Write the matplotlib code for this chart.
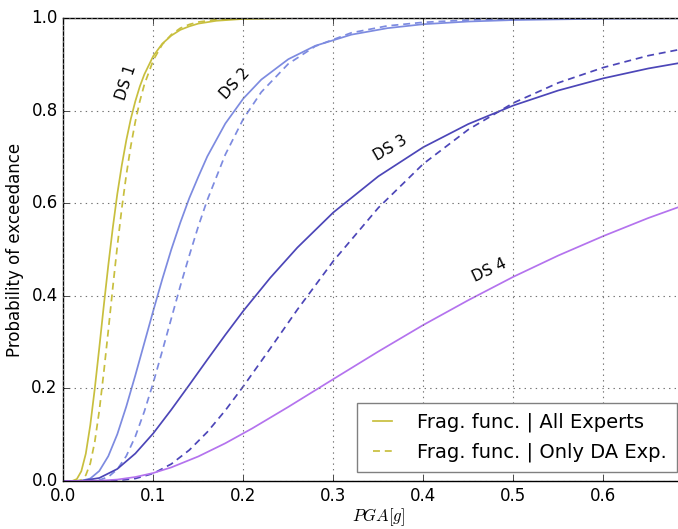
import numpy as np
import matplotlib
matplotlib.use('Agg')
import matplotlib.pyplot as plt

plt.style.use('classic')

# values (PGA in g, probability of exceedance)
ds1_pga = [0.0, 0.01, 0.015, 0.02, 0.025, 0.03, 0.035, 0.04, 0.045, 0.05, 0.055, 0.06, 0.065,
           0.07, 0.075, 0.08, 0.085, 0.09, 0.10, 0.11, 0.12, 0.13, 0.14, 0.15, 0.17, 0.20,
           0.25, 0.30, 0.70]
ds1_all = [0.0, 0.0002, 0.0041, 0.021, 0.059, 0.121, 0.200, 0.288, 0.379, 0.466, 0.547, 0.620,
           0.682, 0.736, 0.782, 0.820, 0.852, 0.878, 0.918, 0.9445, 0.962, 0.9744, 0.982,
           0.9879, 0.994, 0.998, 0.9996, 1.0, 1.0]
ds1_da = [0.0, 0.0, 0.0002, 0.0024, 0.0125, 0.038, 0.085, 0.152, 0.235, 0.325, 0.418, 0.507,
          0.589, 0.661, 0.7234, 0.776, 0.820, 0.856, 0.909, 0.943, 0.964, 0.978, 0.986,
          0.9913, 0.9965, 0.9991, 1.0, 1.0, 1.0]

ds2_pga = [0.0, 0.02, 0.03, 0.04, 0.05, 0.06, 0.07, 0.08, 0.09, 0.10, 0.11, 0.12, 0.13, 0.14,
           0.15, 0.16, 0.18, 0.20, 0.22, 0.25, 0.28, 0.32, 0.36, 0.40, 0.45, 0.50, 0.60, 0.70]
ds2_all = [0.0, 0.0005, 0.0054, 0.0217, 0.0537, 0.101, 0.161, 0.228, 0.298, 0.368, 0.436, 0.500,
           0.558, 0.611, 0.657, 0.701, 0.772, 0.826, 0.867, 0.911, 0.940, 0.964, 0.978, 0.9866,
           0.9924, 0.9956, 0.9985, 0.9994]
ds2_da = [0.0, 0.0, 0.0002, 0.002, 0.0088, 0.0252, 0.054, 0.096, 0.150, 0.2125, 0.281, 0.351,
          0.421, 0.487, 0.550, 0.607, 0.705, 0.782, 0.840, 0.901, 0.939, 0.968, 0.983, 0.9907,
          0.9956, 0.9979, 0.9995, 1.0]

ds3_pga = [0.0, 0.02, 0.04, 0.06, 0.08, 0.10, 0.12, 0.14, 0.16, 0.18, 0.20, 0.23, 0.26, 0.30,
           0.35, 0.40, 0.45, 0.50, 0.55, 0.60, 0.65, 0.70]
ds3_all = [0.0, 0.0003, 0.0065, 0.026, 0.0593, 0.103, 0.154, 0.2076, 0.262, 0.3156, 0.3673, 0.439,
           0.504, 0.580, 0.658, 0.721, 0.771, 0.811, 0.8435, 0.8697, 0.891, 0.908]
ds3_da = [0.0, 0.0, 0.0001, 0.001, 0.0053, 0.0163, 0.0367, 0.0668, 0.1058, 0.1524, 0.2044, 0.2864,
          0.370, 0.475, 0.590, 0.685, 0.759, 0.8165, 0.860, 0.893, 0.9187, 0.9377]

ds4_pga = [0.0, 0.04, 0.06, 0.08, 0.10, 0.12, 0.15, 0.18, 0.21, 0.25, 0.30, 0.35, 0.40, 0.45,
           0.50, 0.55, 0.60, 0.65, 0.70]
ds4_all = [0.0, 0.0006, 0.0031, 0.0086, 0.0173, 0.0294, 0.053, 0.0815, 0.1137, 0.160, 0.220,
           0.2796, 0.337, 0.3905, 0.441, 0.487, 0.529, 0.568, 0.603]

c1, c2, c3, c4 = '#c8bf3e', '#7d8be0', '#4c46b8', '#b473ee'

fig = plt.figure(figsize=(6.78, 5.29), dpi=100, facecolor='white')
ax = fig.add_axes([63.3 / 678, 48 / 529, 630 / 678, 463 / 529])

lw = 1.25
dash = (5, 3.5)
ax.plot(ds1_pga, ds1_all, '-', color=c1, lw=lw, label='Frag. func. | All Experts')
ax.plot(ds1_pga, ds1_da, '--', color=c1, lw=lw, dashes=dash, label='Frag. func. | Only DA Exp.')
ax.plot(ds2_pga, ds2_all, '-', color=c2, lw=lw)
ax.plot(ds2_pga, ds2_da, '--', color=c2, lw=lw, dashes=dash)
ax.plot(ds3_pga, ds3_all, '-', color=c3, lw=lw)
ax.plot(ds3_pga, ds3_da, '--', color=c3, lw=lw, dashes=dash)
ax.plot(ds4_pga, ds4_all, '-', color=c4, lw=lw)

ax.text(0.0697, 0.86, 'DS 1', rotation=72, fontsize=11, ha='center', va='center')
ax.text(0.191, 0.857, 'DS 2', rotation=47, fontsize=11, ha='center', va='center')
ax.text(0.363, 0.719, 'DS 3', rotation=30, fontsize=11, ha='center', va='center')
ax.text(0.474, 0.456, 'DS 4', rotation=25, fontsize=11, ha='center', va='center')

ax.set_xlim(0, 0.7)
ax.set_ylim(0, 1.0)
ax.set_xticks(np.arange(0, 0.65, 0.1))
ax.set_yticks(np.arange(0, 1.01, 0.2))
ax.grid(True, color='0.45', linestyle=':', linewidth=0.8)
ax.set_xlabel('$PGA[g]$', fontsize=12, labelpad=1)
ax.set_ylabel('Probability of exceedance', fontsize=12)

leg = ax.legend(loc='lower right', bbox_to_anchor=(0.974, 0.019), borderaxespad=0,
                fontsize=14, handlelength=1.6, handletextpad=1.0, borderpad=0.5,
                labelspacing=0.55, frameon=True)
leg.get_frame().set_edgecolor('0.5')

fig.savefig('out.png', dpi=100, facecolor='white')
